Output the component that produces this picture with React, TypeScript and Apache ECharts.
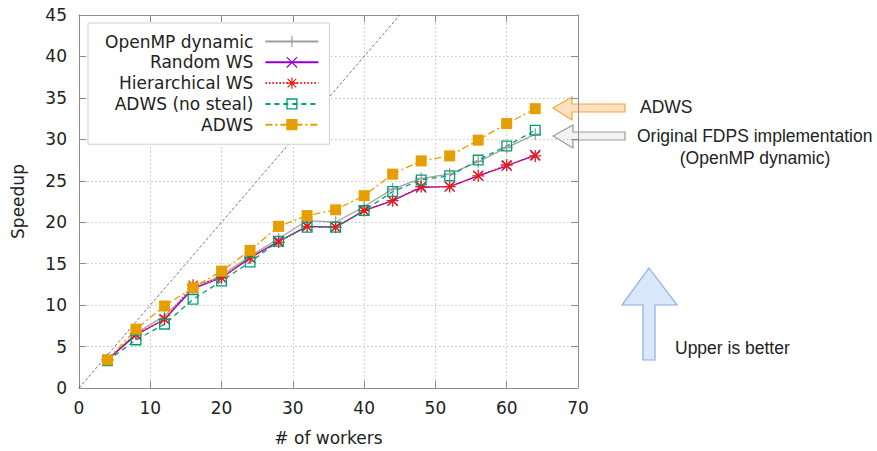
import React, { useEffect, useRef } from "react";
import * as echarts from "echarts";

const workers = [4, 8, 12, 16, 20, 24, 28, 32, 36, 40, 44, 48, 52, 56, 60, 64];
const openmpDynamic = [3.4, 6.6, 8.7, 12.0, 13.6, 15.9, 18.0, 20.2, 20.0, 21.9, 24.0, 25.3, 25.8, 27.3, 29.0, 30.6];
const randomWS = [3.4, 6.4, 8.3, 12.0, 13.3, 15.7, 17.7, 19.5, 19.4, 21.4, 22.6, 24.2, 24.3, 25.6, 26.8, 28.1];
const hierarchicalWS = [3.4, 6.5, 8.3, 12.4, 13.3, 15.7, 17.6, 19.5, 19.4, 21.4, 22.6, 24.3, 24.3, 25.6, 26.9, 28.0];
const adwsNoSteal = [3.3, 5.8, 7.7, 10.7, 12.9, 15.2, 17.7, 19.4, 19.4, 21.4, 23.7, 25.1, 25.6, 27.5, 29.2, 31.1];
const adws = [3.4, 7.1, 9.9, 12.1, 14.1, 16.6, 19.5, 20.8, 21.5, 23.2, 25.8, 27.4, 28.0, 29.9, 31.9, 33.7];
const idealX = [0, 45];
const idealY = [0, 45];
const seriesNames = ["OpenMP dynamic", "Random WS", "Hierarchical WS", "ADWS (no steal)", "ADWS"];

const PLUS = "path://M0,4.45H10V5.55H0Z M4.45,0H5.55V10H4.45Z";
const CROSS = "path://M0,0.75L0.75,0L10,9.25L9.25,10Z M9.25,0L10,0.75L0.75,10L0,9.25Z";
const STAR =
  "path://M0,4.45H10V5.55H0Z M4.45,0H5.55V10H4.45Z M0.8,1.55L1.55,0.8L9.2,8.45L8.45,9.2Z M8.45,0.8L9.2,1.55L1.55,9.2L0.8,8.45Z";
const OPEN_SQUARE = "path://M0,0H10V10H0Z M1.2,1.2V8.8H8.8V1.2Z";

const FONT = "DejaVu Sans";
const ANNOT_FONT = "Liberation Sans";

function pairs(xs: number[], ys: number[]) {
  return xs.map((x, i) => [x, ys[i]]);
}

export default function App() {
  const ref = useRef<HTMLDivElement>(null);
  useEffect(() => {
    if (!ref.current) return;
    const chart = echarts.init(ref.current, undefined, { renderer: "svg" });
    const axisColor = "#8c8c8c";
    const mkX = (pos: "bottom" | "top", main: boolean) => ({
      type: "value",
      position: pos,
      min: 0,
      max: 70,
      interval: 10,
      name: main ? "# of workers" : "",
      nameLocation: "middle",
      nameGap: 41,
      nameTextStyle: { fontFamily: FONT, fontSize: 17, color: "#222" },
      axisLine: { show: true, onZero: false, lineStyle: { color: axisColor, width: 1 } },
      axisTick: { show: true, inside: true, length: 7, lineStyle: { color: axisColor } },
      axisLabel: { show: main, margin: 11, fontFamily: FONT, fontSize: 17, color: "#222" },
      splitLine: main
        ? { show: true, lineStyle: { color: "#c4c4c4", width: 1, type: [1.5, 2.5] } }
        : { show: false },
    });
    const mkY = (pos: "left" | "right", main: boolean) => ({
      type: "value",
      position: pos,
      min: 0,
      max: 45,
      interval: 5,
      name: main ? "Speedup" : "",
      nameLocation: "middle",
      nameGap: 53,
      nameTextStyle: { fontFamily: FONT, fontSize: 17, color: "#222" },
      axisLine: { show: true, onZero: false, lineStyle: { color: axisColor, width: 1 } },
      axisTick: { show: true, inside: true, length: 7, lineStyle: { color: axisColor } },
      axisLabel: { show: main, margin: 12, fontFamily: FONT, fontSize: 17, color: "#222" },
      splitLine: main
        ? { show: true, lineStyle: { color: "#c4c4c4", width: 1, type: [1.5, 2.5] } }
        : { show: false },
    });

    const line = (
      name: string,
      ys: number[],
      color: string,
      symbol: string,
      size: number,
      dash: any
    ) => ({
      name,
      type: "line",
      xAxisIndex: 0,
      yAxisIndex: 0,
      data: pairs(workers, ys),
      symbol,
      symbolSize: size,
      showSymbol: true,
      lineStyle: { color, width: 1.3, type: dash },
      itemStyle: { color },
      emphasis: { disabled: true },
    });

    chart.setOption({
      animation: false,
      backgroundColor: "#ffffff",
      grid: { left: 79, right: 299, top: 15, bottom: 57, containLabel: false },
      xAxis: [mkX("bottom", true), mkX("top", false)],
      yAxis: [mkY("left", true), mkY("right", false)],
      legend: {
        data: seriesNames,
        orient: "vertical",
        align: "right",
        left: 88,
        top: 23,
        padding: [10, 10, 11, 17],
        itemWidth: 53,
        itemHeight: 14,
        itemGap: 3.8,
        backgroundColor: "#ffffff",
        borderColor: "#d0d0d0",
        borderWidth: 1,
        selectedMode: false,
        formatter: (n: string) => "{t|" + n + "}",
        textStyle: {
          fontFamily: FONT,
          fontSize: 17,
          color: "#222",
          rich: { t: { fontFamily: FONT, fontSize: 17, color: "#222", padding: [0, 7, 0, 0] } },
        },
      },
      series: [
        {
          name: "ideal",
          type: "line",
          data: pairs(idealX, idealY),
          symbol: "none",
          silent: true,
          lineStyle: { color: "#555555", width: 0.8, type: [3, 2] },
          z: 1,
        },
        line(seriesNames[0], openmpDynamic, "#a0a0a0", PLUS, 12, "solid"),
        line(seriesNames[1], randomWS, "#9400d3", CROSS, 11, "solid"),
        line(seriesNames[2], hierarchicalWS, "#e51e10", STAR, 12, [1.5, 2]),
        line(seriesNames[3], adwsNoSteal, "#009e73", OPEN_SQUARE, 11, [5, 4]),
        line(seriesNames[4], adws, "#e69f00", "rect", 11, [7, 3, 2, 3]),
      ],
      graphic: [
        {
          type: "polygon",
          z: -10,
          shape: {
            points: [
              [553, 108], [572, 97], [572, 104], [625, 104], [625, 112], [572, 112], [572, 120],
            ],
          },
          style: { fill: "#fde0c0", stroke: "#f0a83c", lineWidth: 1.2 },
        },
        {
          type: "polygon",
          z: -10,
          shape: {
            points: [
              [553, 136], [573, 125], [573, 132], [625, 132], [625, 140], [573, 140], [573, 148],
            ],
          },
          style: { fill: "#f3f3f3", stroke: "#9a9a9a", lineWidth: 1.2 },
        },
        {
          type: "polygon",
          z: -10,
          shape: {
            points: [
              [649, 268], [677, 305], [655, 305], [655, 360], [643, 360], [643, 305], [622, 305],
            ],
          },
          style: { fill: "#dae8fc", stroke: "#8aaee0", lineWidth: 1.2 },
        },
        {
          type: "text",
          x: 640,
          y: 107,
          style: {
            text: "ADWS",
            fontFamily: ANNOT_FONT,
            fontSize: 17.5,
            fill: "#222",
            verticalAlign: "middle",
          },
        },
        {
          type: "text",
          x: 637,
          y: 136,
          style: {
            text: "Original FDPS implementation",
            fontFamily: ANNOT_FONT,
            fontSize: 17.5,
            fill: "#222",
            verticalAlign: "middle",
          },
        },
        {
          type: "text",
          x: 755,
          y: 158,
          style: {
            text: "(OpenMP dynamic)",
            fontFamily: ANNOT_FONT,
            fontSize: 17.5,
            fill: "#222",
            align: "center",
            verticalAlign: "middle",
          },
        },
        {
          type: "text",
          x: 675,
          y: 348,
          style: {
            text: "Upper is better",
            fontFamily: ANNOT_FONT,
            fontSize: 17.5,
            fill: "#222",
            verticalAlign: "middle",
          },
        },
      ],
    });
    return () => chart.dispose();
  }, []);
  return (
    <div
      ref={ref}
      style={{ position: "fixed", left: 0, top: 0, width: 877, height: 451, background: "#fff" }}
    />
  );
}
